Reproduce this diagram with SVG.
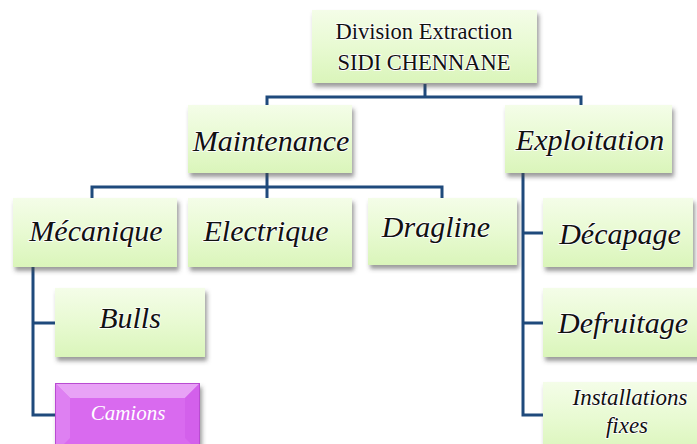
<svg xmlns="http://www.w3.org/2000/svg" width="697" height="444" viewBox="0 0 697 444">
<defs>
<linearGradient id="g" x1="0" y1="0" x2="0" y2="1">
<stop offset="0" stop-color="#F4FDE8"/>
<stop offset="0.5" stop-color="#E8FAD2"/>
<stop offset="1" stop-color="#DAF5BA"/>
</linearGradient>
<filter id="sh" x="-10%" y="-10%" width="125%" height="140%">
<feDropShadow dx="2" dy="4" stdDeviation="2" flood-color="#4a4a4a" flood-opacity="0.55"/>
</filter>
</defs>
<style>
.box{fill:url(#g);filter:url(#sh)}
.lbl{font-family:"Times New Roman","Liberation Serif",Tinos,serif;font-style:italic;font-size:30px;fill:#111;stroke:#fff;stroke-width:1.6px;paint-order:stroke}
.top{font-family:"Times New Roman","Liberation Serif",Tinos,serif;font-size:22.5px;fill:#111;stroke:#fff;stroke-width:1.6px;paint-order:stroke}
.con{fill:none;stroke:#1F4A7C;stroke-width:3}
</style>
<rect width="697" height="444" fill="#fff"/>
<g id="connectors">
<path class="con" d="M425,84 V97"/>
<path class="con" d="M267,105 V97 H581 V105"/>
<path class="con" d="M267,173 V198"/>
<path class="con" d="M92,198 V187 H442 V198"/>
<path class="con" d="M523,173 V415 H543 M523,233 H543 M523,323 H543"/>
<path class="con" d="M33,267 V415 H55 M33,323 H55"/>
</g>
<g id="n-division">
<rect class="box" x="312" y="10" width="225" height="73"/>
<text class="top" x="424" y="39" text-anchor="middle">Division Extraction</text>
<text class="top" x="424" y="70" text-anchor="middle">SIDI CHENNANE</text>
</g>
<g id="n-maintenance">
<rect class="box" x="188" y="105" width="164" height="68"/>
<text class="lbl" x="271" y="151" text-anchor="middle">Maintenance</text>
</g>
<g id="n-exploitation">
<rect class="box" x="505" y="105" width="167" height="68"/>
<text class="lbl" x="590" y="150" text-anchor="middle">Exploitation</text>
</g>
<g id="n-mecanique">
<rect class="box" x="13" y="198" width="164" height="69"/>
<text class="lbl" x="96" y="241" text-anchor="middle">Mécanique</text>
</g>
<g id="n-electrique">
<rect class="box" x="188" y="198" width="164" height="69"/>
<text class="lbl" x="266" y="241" text-anchor="middle">Electrique</text>
</g>
<g id="n-dragline">
<rect class="box" x="368" y="198" width="149" height="67"/>
<text class="lbl" x="436" y="237" text-anchor="middle">Dragline</text>
</g>
<g id="n-decapage">
<rect class="box" x="543" y="198" width="150" height="69"/>
<text class="lbl" x="620" y="244" text-anchor="middle">Décapage</text>
</g>
<g id="n-bulls">
<rect class="box" x="55" y="288" width="150" height="69"/>
<text class="lbl" x="130" y="328" text-anchor="middle">Bulls</text>
</g>
<g id="n-defruitage">
<rect class="box" x="543" y="288" width="165" height="69"/>
<text class="lbl" x="623" y="333" text-anchor="middle">Defruitage</text>
</g>
<g id="n-installations">
<rect class="box" x="543" y="382" width="165" height="72"/>
<text class="lbl" style="font-size:23px" x="630" y="405" text-anchor="middle">Installations</text>
<text class="lbl" style="font-size:23px" x="627" y="433" text-anchor="middle">fixes</text>
</g>
<g id="n-camions">
<rect x="55" y="383" width="145" height="70" fill="#D96BEF" filter="url(#sh)"/>
<polygon points="55,383 200,383 185,398 70,398" fill="#E8A2F6"/>
<polygon points="55,383 70,398 70,438 55,453" fill="#DE80F2"/>
<polygon points="200,383 185,398 185,438 200,453" fill="#D360EB"/>
<rect x="55.5" y="383.5" width="144" height="69" fill="none" stroke="#B94BD2" stroke-width="1"/>
<text font-family="Times New Roman, Liberation Serif, serif" font-style="italic" font-size="21" fill="#fff" text-anchor="middle" x="128" y="420">Camions</text>
</g>
</svg>
